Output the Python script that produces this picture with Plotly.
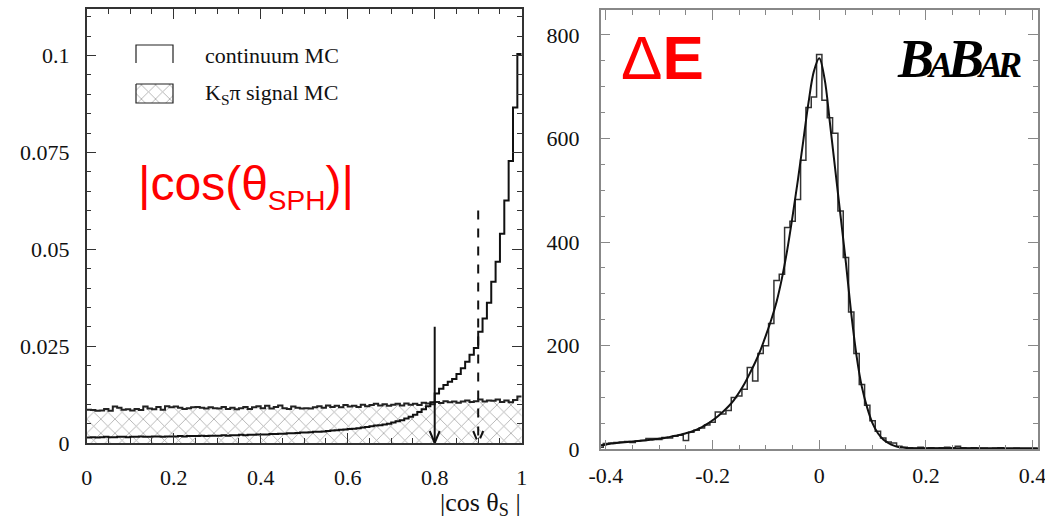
import numpy as np
import plotly.graph_objects as go

W, H = 1045, 517

# ---------------- left panel: |cos theta_S| (100 bins of 0.01 on [0, 1]) ----------------
cos_edges = np.round(np.linspace(0.0, 1.0, 101), 2)

continuum_mc = [
    0.0014, 0.0015, 0.0014, 0.0015, 0.0016, 0.0015, 0.0015, 0.0016, 0.0016, 0.0015,
    0.0016, 0.0016, 0.0017, 0.0016, 0.0016, 0.0017, 0.0017, 0.0016, 0.0017, 0.0017,
    0.0017, 0.0018, 0.0017, 0.0018, 0.0018, 0.0018, 0.0019, 0.0018, 0.0019, 0.0019,
    0.0019, 0.0020, 0.0019, 0.0020, 0.0020, 0.0021, 0.0020, 0.0021, 0.0021, 0.0022,
    0.0022, 0.0022, 0.0023, 0.0023, 0.0024, 0.0024, 0.0025, 0.0025, 0.0026, 0.0027,
    0.0027, 0.0028, 0.0029, 0.0029, 0.0030, 0.0031, 0.0032, 0.0033, 0.0034, 0.0035,
    0.0036, 0.0037, 0.0038, 0.0040, 0.0041, 0.0043, 0.0045, 0.0046, 0.0048, 0.0050,
    0.0053, 0.0056, 0.0059, 0.0063, 0.0068, 0.0073, 0.0080, 0.0087, 0.0095, 0.0105,
    0.0128, 0.0140, 0.0150, 0.0158, 0.0165, 0.0178, 0.0193, 0.0210, 0.0228, 0.0245,
    0.0287, 0.0321, 0.0362, 0.0416, 0.0468, 0.0540, 0.0626, 0.0728, 0.0866, 0.1004,
]

signal_mc = [
    0.0086, 0.0085, 0.0083, 0.0084, 0.0088, 0.0083, 0.0094, 0.0091, 0.0086, 0.0087,
    0.0084, 0.0088, 0.0085, 0.0094, 0.0089, 0.0087, 0.0093, 0.0086, 0.0095, 0.0092,
    0.0094, 0.0091, 0.0088, 0.0090, 0.0092, 0.0093, 0.0091, 0.0089, 0.0092, 0.0090,
    0.0089, 0.0093, 0.0088, 0.0091, 0.0087, 0.0090, 0.0093, 0.0088, 0.0092, 0.0095,
    0.0090, 0.0096, 0.0089, 0.0093, 0.0097, 0.0090, 0.0088, 0.0094, 0.0091, 0.0089,
    0.0090, 0.0089, 0.0092, 0.0095, 0.0091, 0.0097, 0.0093, 0.0096, 0.0092, 0.0098,
    0.0094, 0.0096, 0.0093, 0.0099, 0.0095, 0.0098, 0.0101, 0.0097, 0.0100, 0.0096,
    0.0099, 0.0101, 0.0097, 0.0102, 0.0099, 0.0101, 0.0098, 0.0104, 0.0102, 0.0100,
    0.0106, 0.0103, 0.0108, 0.0105, 0.0107, 0.0104, 0.0107, 0.0110, 0.0106, 0.0108,
    0.0112, 0.0107, 0.0110, 0.0109, 0.0112, 0.0106, 0.0110, 0.0105, 0.0111, 0.0120,
]

# selection cuts (solid: 0.8, dashed: 0.9) and the heights of their arrows
cut_values = [0.8, 0.9]
cut_arrow_tops = [0.030, 0.060]
cut_dashes = ["solid", "dash"]

cos_yticks = [0, 0.025, 0.05, 0.075, 0.1]
cos_yticktext = ["0", "0.025", "0.05", "0.075", "0.1"]
cos_xticks = [0, 0.2, 0.4, 0.6, 0.8, 1]
cos_xticktext = ["0", "0.2", "0.4", "0.6", "0.8", "1"]

# ---------------- right panel: Delta E (bins of 0.01 centred on -0.41 .. 0.41) ----------------
de_centers = np.round(np.arange(-41, 42) * 0.01, 2)

de_counts = [
    4, 11, 12, 13, 14, 15, 13, 16, 17, 21,
    21, 19, 23, 22, 25, 27, 17, 33, 37, 41,
    47, 52, 72, 68, 75, 100, 103, 116, 158, 132,
    185, 200, 243, 326, 338, 428, 440, 482, 558, 660,
    680, 762, 674, 640, 610, 460, 370, 265, 185, 125,
    85, 55, 35, 22, 14, 12, 6, 4, 3, 2,
    4, 2, 3, 2, 3, 4, 3, 6, 3, 2,
    3, 2, 2, 1, 2, 3, 1, 1, 2, 1,
    1, 1, 1,
]

de_fit = [
    8, 9, 11, 12, 13, 14, 15, 16, 17, 18,
    19, 21, 22, 24, 26, 28, 31, 34, 38, 43,
    49, 56, 64, 73, 83, 95, 110, 127, 147, 168,
    192, 220, 250, 285, 330, 385, 450, 520, 595, 670,
    730, 755, 715, 630, 540, 450, 360, 262, 180, 120,
    80, 50, 31, 19, 12, 7, 4, 3, 2, 2,
    2, 2, 2, 2, 2, 2, 2, 2, 2, 2,
    2, 2, 2, 2, 2, 2, 2, 2, 2, 2,
    2, 2, 2,
]

de_xticks = [-0.4, -0.2, 0, 0.2, 0.4]
de_xticktext = ["-0.4", "-0.2", "0", "0.2", "0.4"]
de_yticks = [0, 200, 400, 600, 800]
de_yticktext = ["0", "200", "400", "600", "800"]


def fx(px):
    return px / W


def fy(py):
    return 1 - py / H


SERIF = "Liberation Serif, Times New Roman, serif"
SANS = "Liberation Sans, Arial, sans-serif"
HATCH = dict(shape="x", size=10, solidity=0.16, fgcolor="#555", bgcolor="white")

fig = go.Figure()

# hatched signal histogram
sig_y = list(signal_mc) + [signal_mc[-1]]
fig.add_trace(go.Scatter(
    x=cos_edges, y=sig_y, mode="lines", line=dict(shape="hv", color="#222", width=2),
    fill="tozeroy", fillcolor="white", fillpattern=HATCH,
    xaxis="x", yaxis="y", showlegend=False, hoverinfo="skip",
))

# continuum histogram outline
cont_y = list(continuum_mc) + [continuum_mc[-1]]
fig.add_trace(go.Scatter(
    x=cos_edges, y=cont_y, mode="lines",
    line=dict(shape="hv", color="#111", width=2),
    xaxis="x", yaxis="y", showlegend=False, hoverinfo="skip",
))

# Delta E histogram and fitted curve
de_edges = np.concatenate([de_centers - 0.005, [de_centers[-1] + 0.005]])
fig.add_trace(go.Scatter(
    x=de_edges, y=list(de_counts) + [de_counts[-1]], mode="lines",
    line=dict(shape="hv", color="#333", width=1.5),
    xaxis="x2", yaxis="y2", showlegend=False, hoverinfo="skip",
))
fig.add_trace(go.Scatter(
    x=de_centers, y=de_fit, mode="lines",
    line=dict(shape="spline", smoothing=1.0, color="#111", width=2),
    xaxis="x2", yaxis="y2", showlegend=False, hoverinfo="skip",
))

# legend samples, drawn on a pixel overlay
fig.add_trace(go.Scatter(
    x=[136, 136, 173, 173], y=[63, 45, 45, 63], mode="lines",
    line=dict(color="#222", width=1.2), xaxis="x3", yaxis="y3",
    showlegend=False, hoverinfo="skip",
))
fig.add_trace(go.Scatter(
    x=[136, 173, 173, 136, 136], y=[84, 84, 103, 103, 84], mode="lines",
    line=dict(color="#222", width=1.2), fill="toself", fillcolor="white", fillpattern=HATCH,
    xaxis="x3", yaxis="y3", showlegend=False, hoverinfo="skip",
))

shapes = []
for cut, top, dash in zip(cut_values, cut_arrow_tops, cut_dashes):
    shapes.append(dict(type="line", xref="x", yref="y", x0=cut, x1=cut, y0=top, y1=0,
                       line=dict(color="#111", width=2, dash=dash)))
    shapes.append(dict(type="path", xref="x", yref="y", xsizemode="pixel", ysizemode="pixel",
                       xanchor=cut, yanchor=0, path="M-5,12 L0,0 L5,12",
                       line=dict(color="#111", width=2, dash=dash)))

annotations = [
    dict(text="continuum MC", x=fx(203), y=fy(55), xref="paper", yref="paper",
         xanchor="left", yanchor="middle", showarrow=False,
         font=dict(family=SERIF, size=22, color="#111")),
    dict(text="K<sub>S</sub>π signal MC", x=fx(203), y=fy(94), xref="paper", yref="paper",
         xanchor="left", yanchor="middle", showarrow=False,
         font=dict(family=SERIF, size=22, color="#111")),
    dict(text="|cos(θ<sub><span style='font-size:28px'>SPH</span></sub>)|",
         x=fx(136), y=fy(186), xref="paper", yref="paper",
         xanchor="left", yanchor="middle", showarrow=False,
         font=dict(family=SANS, size=48, color="#ff0000")),
    dict(text="|cos θ<sub>S</sub> |", x=fx(523), y=fy(504), xref="paper", yref="paper",
         xanchor="right", yanchor="middle", showarrow=False,
         font=dict(family=SERIF, size=26, color="#111")),
    dict(text="Δ<b>E</b>", x=fx(619), y=fy(57), xref="paper", yref="paper",
         xanchor="left", yanchor="middle", showarrow=False,
         font=dict(family=SANS, size=62, color="#ff0000")),
    dict(text="<b><i><span style='letter-spacing:-5px'>B<span style='font-size:36px'>A</span>"
              "B<span style='font-size:36px'>AR</span></span></i></b>",
         x=fx(1023), y=fy(59), xref="paper", yref="paper",
         xanchor="right", yanchor="middle", showarrow=False,
         font=dict(family=SERIF, size=54, color="#000")),
]

left_axis_color = "#333"
right_axis_color = "#888"
tickfont = dict(family=SERIF, size=22, color="#111")


def frame_axis(domain, rng, tickvals, ticktext, minor_dtick, color, standoff, anchor):
    return dict(
        domain=domain, range=rng, anchor=anchor, automargin=False,
        tickmode="array", tickvals=tickvals, ticktext=ticktext,
        ticks="inside", ticklen=10, tickcolor=color, tickwidth=1,
        showline=True, linecolor=color, linewidth=1.5, mirror="ticks",
        showgrid=False, zeroline=False, tickfont=tickfont, ticklabelstandoff=standoff,
        ticklabeloverflow="allow",
        minor=dict(tickmode="linear", tick0=0, dtick=minor_dtick, ticks="inside",
                   ticklen=5, tickcolor=color, tickwidth=1, showgrid=False),
    )


fig.update_layout(
    width=W, height=H, margin=dict(l=0, r=0, t=0, b=0),
    paper_bgcolor="white", plot_bgcolor="rgba(0,0,0,0)",
    font=dict(family=SERIF),
    shapes=shapes, annotations=annotations,
    xaxis=frame_axis([fx(86.7), fx(521.7)], [0, 1], cos_xticks, cos_xticktext,
                     0.05, left_axis_color, 14, "y"),
    yaxis=frame_axis([fy(443), fy(9)], [0, 0.112], cos_yticks, cos_yticktext,
                     0.005, left_axis_color, 11, "x"),
    xaxis2=frame_axis([fx(600.6), fx(1037.9)], [-0.41, 0.41], de_xticks, de_xticktext,
                      0.05, right_axis_color, 6, "y2"),
    yaxis2=frame_axis([fy(449.3), fy(10)], [0, 848], de_yticks, de_yticktext,
                      50, right_axis_color, 15, "x2"),
    xaxis3=dict(domain=[0, 1], range=[0, W], visible=False, anchor="y3", fixedrange=True),
    yaxis3=dict(domain=[0, 1], range=[H, 0], visible=False, anchor="x3", fixedrange=True),
)

fig.write_html("out.html")
